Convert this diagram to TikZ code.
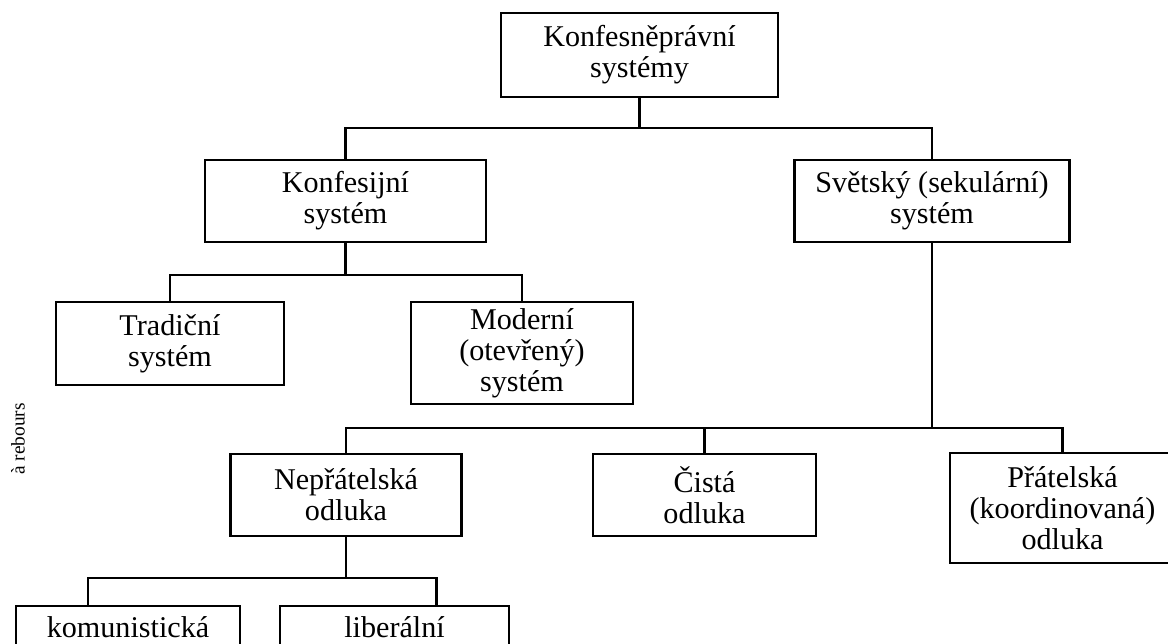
\documentclass[tikz,border=0pt]{standalone}
\usepackage{fontspec}
\setmainfont{Liberation Serif}
\usetikzlibrary{positioning}

\begin{document}
\begin{tikzpicture}[x=0.75pt, y=-0.75pt,
  every block/.style={draw, line width=1.7pt, align=center, inner sep=0pt,
    font=\fontsize{22.6}{23.25}\selectfont},
  tree/.style={line width=1.7pt}]

\useasboundingbox (0,0) rectangle (1168,643);

\node [every block, minimum width=207.75pt, minimum height=63pt] (system-root) at (639.5,55) {Konfesněprávní\\systémy};

\node [every block, minimum width=210.75pt, minimum height=61.5pt] (system-conf) at (345.5,201) {Konfesijní\\systém};
\node [every block, minimum width=206.25pt, minimum height=61.5pt] (system-secular) at (932,201) {Světský (sekulární)\\systém};

\node [every block, minimum width=171pt, minimum height=62.25pt] (system-trad) at (170,343.5) {Tradiční\\systém};
\node [every block, minimum width=166.5pt, minimum height=76.5pt] (system-modern) at (522,353) {Moderní\\(otevřený)\\systém};

\node [every block, minimum width=173.25pt, minimum height=61.5pt] (split-hostile) at (346,495) {Nepřátelská\\odluka};
\node [every block, minimum width=167.25pt, minimum height=61.5pt] (split-pure) at (704.5,495) {Čistá\\odluka};
\node [every block, minimum width=168.75pt, minimum height=82.5pt] (split-friendly) at (1062.5,508) {Přátelská\\(koordinovaná)\\odluka};

% cut off by the page edge
\node [every block, minimum width=168pt, anchor=base, text height=23pt, text depth=30pt] (split-communist) at (128,637) {komunistická};
\node [every block, minimum width=171.75pt, anchor=base, text height=23pt, text depth=30pt] (split-liberal) at (394.5,637) {liberální};

\node [rotate=90, font=\fontsize{14.5}{14.5}\selectfont] (margin-note) at (18,439) {à rebours};

\foreach \c in {conf,secular}
  \draw [tree] (system-root.south) -- ++(0,30) -| (system-\c.north);

\foreach \c in {trad,modern}
  \draw [tree] (system-conf.south) -- ++(0,32) -| (system-\c.north);

\foreach \c in {hostile,pure,friendly}
  \draw [tree] (system-secular.south) -- ++(0,185) -| (split-\c.north);

\draw [tree] (split-hostile.south) -- ++(0,41) -| ([xshift=-30pt]split-communist.north);
\draw [tree] (split-hostile.south) -- ++(0,41) -| ([xshift=31.5pt]split-liberal.north);

\end{tikzpicture}
\end{document}
